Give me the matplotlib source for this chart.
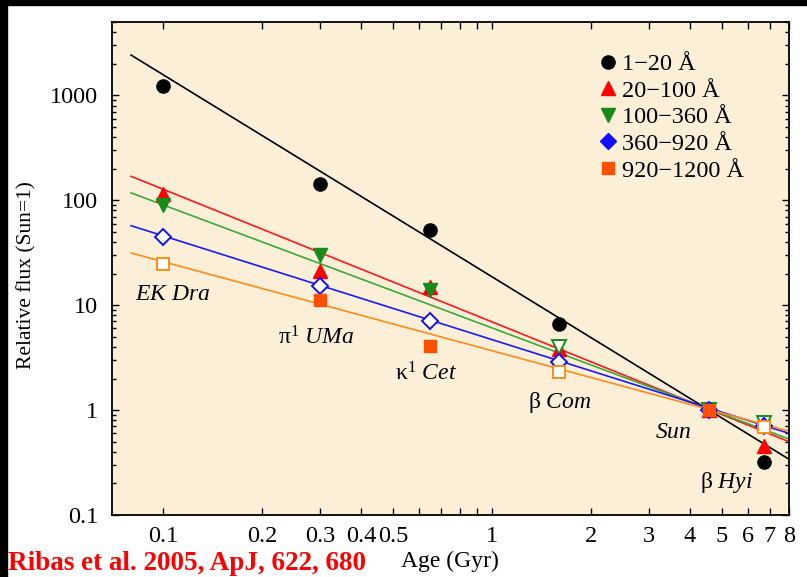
import matplotlib
matplotlib.use("Agg")
import matplotlib.pyplot as plt
from matplotlib.lines import Line2D
from matplotlib.patches import Rectangle

plt.rcParams['font.family'] = ['Liberation Serif', 'DejaVu Serif']
plt.rcParams['mathtext.fontset'] = 'custom'
plt.rcParams['mathtext.rm'] = 'Liberation Serif'
plt.rcParams['mathtext.it'] = 'Liberation Serif:italic'

# ---- data -------------------------------------------------------------
star_ages = [0.1, 0.3, 0.65, 1.6, 4.56, 6.7]          # Gyr
star_names = [r'$\mathit{EK\ Dra}$', '\u03c0$^{\\rm 1}$ $\\mathit{UMa}$',
              '\u03ba$^{\\rm 1}$ $\\mathit{Cet}$', '\u03b2 $\\mathit{Com}$',
              r'$\mathit{Sun}$', '\u03b2 $\\mathit{Hyi}$']

band_labels = ['1\u221220 \u00c5', '20\u2212100 \u00c5', '100\u2212360 \u00c5',
               '360\u2212920 \u00c5', '920\u22121200 \u00c5']

flux_1_20 = [1220, 144, 52, 6.6, 1.0, 0.32]
flux_20_100 = [115, 21, 15, 3.8, 1.0, 0.45]
flux_100_360 = [91, 30, 14, 4.0, 1.0, 0.75]
flux_360_920 = [45, 15.3, 7.0, 2.9, 1.0, 0.71]
flux_920_1200 = [24.6, 11.1, 4.1, 2.3, 1.0, 0.69]

# power-law fits, given by their values at the ends of the fitted age range
fit_ages = [0.08, 8.0]
fit_1_20 = [2421, 0.34]
fit_20_100 = [169, 0.50]
fit_100_360 = [117.5, 0.53]
fit_360_920 = [57.2, 0.60]
fit_920_1200 = [31.4, 0.63]

# which measurements are drawn as filled symbols
filled_1_20 = [True, True, True, True, True, True]
filled_20_100 = [True, True, True, True, True, True]
filled_100_360 = [True, True, True, False, False, False]
filled_360_920 = [False, False, False, False, False, False]
filled_920_1200 = [False, True, True, False, True, False]

x_ticks = [0.1, 0.2, 0.3, 0.4, 0.5, 0.6, 0.7, 0.8, 0.9, 1, 2, 3, 4, 5, 6, 7, 8]
x_ticklabels = ['0.1', '0.2', '0.3', '0.4', '0.5', '', '', '', '', '1',
                '2', '3', '4', '5', '6', '7', '8']
y_ticks = [0.1, 1, 10, 100, 1000]
y_ticklabels = ['0.1', '1', '10', '100', '1000']

# ---- styles -----------------------------------------------------------
bands = [
    dict(flux=flux_1_20, fit=fit_1_20, filled=filled_1_20, marker='o', ms=9.5,
         mcolor='black', lcolor='black'),
    dict(flux=flux_20_100, fit=fit_20_100, filled=filled_20_100, marker='^', ms=10.5,
         mcolor='#ff0000', lcolor='#ff1a1a'),
    dict(flux=flux_100_360, fit=fit_100_360, filled=filled_100_360, marker='v', ms=10.5,
         mcolor='#1a8a1a', lcolor='#3aaa3a'),
    dict(flux=flux_360_920, fit=fit_360_920, filled=filled_360_920, marker='D', ms=8,
         mcolor='#1010ff', lcolor='#1a1aff'),
    dict(flux=flux_920_1200, fit=fit_920_1200, filled=filled_920_1200, marker='s', ms=8,
         mcolor='#ff5000', lcolor='#ff8c1a'),
]

label_pos = [(0.082, 12.5), (0.223, 4.87), (0.506, 2.2), (1.285, 1.19), (3.13, 0.616), (4.29, 0.205)]

# ---- figure -----------------------------------------------------------
W, H = 807, 577
fig = plt.figure(figsize=(W / 100, H / 100), dpi=100, facecolor='white')
fig.patches.append(Rectangle((0, 1 - 5 / H), 1, 5 / H, transform=fig.transFigure,
                             color='black', zorder=-1))
fig.patches.append(Rectangle((0, 0), 7 / W, 1, transform=fig.transFigure,
                             color='black', zorder=-1))

ax = fig.add_axes([112 / W, (H - 515) / H, (789 - 112) / W, (515 - 22) / H])
ax.set_facecolor('#fcefd8')
ax.set_xscale('log')
ax.set_yscale('log')
ax.set_xlim(0.07, 8)
ax.set_ylim(0.1, 5000)

for b in bands:
    ax.plot(fit_ages, b['fit'], color=b['lcolor'], lw=1.2, zorder=2)

for i, b in enumerate(bands):
    for age, f, full in zip(star_ages, b['flux'], b['filled']):
        ax.plot([age], [f], linestyle='none', marker=b['marker'], ms=b['ms'],
                mfc=(b['mcolor'] if full else 'white'),
                mec=(b['lcolor'] if (i == 4 and not full) else b['mcolor']),
                mew=(1.0 if full else 1.4), zorder=3 + i)

for name, (lx, ly) in zip(star_names, label_pos):
    ax.text(lx, ly, name, fontsize=17, ha='left', va='center', color='black', zorder=10)

# axes / ticks
ax.set_xticks(x_ticks)
ax.set_xticklabels(x_ticklabels)
ax.set_xticks([], minor=True)
ax.set_yticks(y_ticks)
ax.set_yticklabels(y_ticklabels)
ax.tick_params(which='both', direction='in', top=True, right=True, width=1.0,
               labelsize=17.5, color='black')
ax.tick_params(which='major', length=5)
ax.tick_params(which='minor', length=3)
ax.tick_params(axis='y', pad=10)
ax.tick_params(axis='x', pad=8)
for s in ax.spines.values():
    s.set_linewidth(1.3)

fig.text(27 / W, (H - 275) / H, 'Relative flux (Sun=1)', rotation=90,
         ha='center', va='center', fontsize=15.5)
fig.text(450 / W, (H - 561) / H, 'Age (Gyr)', ha='center', va='center', fontsize=17)
fig.text(8 / W, (H - 570.5) / H, 'Ribas et al. 2005, ApJ, 622, 680', ha='left',
         va='baseline', fontsize=19.5, fontweight='bold', color='#ff0000')

# legend
handles = [Line2D([], [], linestyle='none', marker=b['marker'], ms=b['ms'],
                  mfc=b['mcolor'], mec=b['mcolor']) for b in bands]
ax.legend(handles, band_labels, loc='upper left',
          bbox_to_anchor=((601 - 112) / (789 - 112), 1 - (53 - 22) / (515 - 22)),
          frameon=False, fontsize=17.5, handlelength=0.55, handletextpad=0.33,
          labelspacing=0.19, borderpad=0, borderaxespad=0)

fig.savefig('out.png', dpi=100, facecolor=fig.get_facecolor())
